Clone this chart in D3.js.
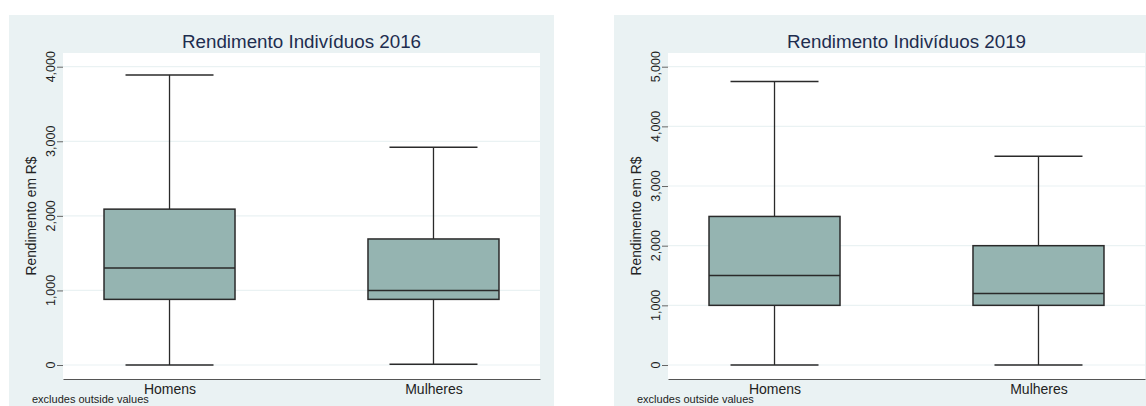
<!DOCTYPE html>
<html>
<head>
<meta charset="utf-8">
<script src="https://cdn.jsdelivr.net/npm/d3@7"></script>
<style>
  html, body { margin: 0; padding: 0; background: #ffffff; }
  svg { display: block; font-family: "Liberation Sans", Arial, sans-serif; }
  .ytick { font-size: 12.5px; }
</style>
</head>
<body>
<svg id="chart" width="1146" height="406"></svg>
<script>
// Income distribution by sex, box plots for 2016 and 2019
const categories = ["Homens", "Mulheres"];

const lower2016  = [0, 10];
const q1_2016    = [880, 880];
const median2016 = [1300, 1000];
const q3_2016    = [2090, 1690];
const upper2016  = [3890, 2920];
const ticks2016  = [0, 1000, 2000, 3000, 4000];

const lower2019  = [0, 0];
const q1_2019    = [1000, 1000];
const median2019 = [1500, 1200];
const q3_2019    = [2490, 2000];
const upper2019  = [4750, 3500];
const ticks2019  = [0, 1000, 2000, 3000, 4000, 5000];

const panels = [
  { title: "Rendimento Indivíduos 2016", lower: lower2016, q1: q1_2016, median: median2016, q3: q3_2016, upper: upper2016, ticks: ticks2016, bgX: 9, plotX: 63 },
  { title: "Rendimento Indivíduos 2019", lower: lower2019, q1: q1_2019, median: median2019, q3: q3_2019, upper: upper2019, ticks: ticks2019, bgX: 614, plotX: 668 }
];

const svg = d3.select("#chart");
const BG = "#eaf2f3";
const plotW = 477, plotTop = 53, plotBottom = 379;
const boxW = 131, capW = 88;
const fmt = d3.format(",");

panels.forEach(p => {
  // graph region background
  svg.append("rect")
    .attr("x", p.bgX).attr("y", 15)
    .attr("width", plotW + 68).attr("height", 400)
    .attr("fill", BG);

  const g = svg.append("g").attr("transform", `translate(${p.plotX},0)`);

  // plot region
  g.append("rect")
    .attr("x", 0).attr("y", plotTop)
    .attr("width", plotW).attr("height", plotBottom - plotTop)
    .attr("fill", "#ffffff");

  const x = d3.scalePoint().domain(categories).range([0, plotW]).padding(0.4035);
  const y = d3.scaleLinear().domain([0, d3.max(p.ticks)]).range([365, 66.7]);

  // gridlines
  g.selectAll(".grid").data(p.ticks).join("line")
    .attr("x1", 0).attr("x2", plotW)
    .attr("y1", d => y(d)).attr("y2", d => y(d))
    .attr("stroke", BG).attr("stroke-width", 1.2);

  // y axis ticks (labels drawn separately, rotated)
  const yAxis = g.append("g")
    .call(d3.axisLeft(y).tickValues(p.ticks).tickSize(6).tickFormat(""));
  yAxis.select(".domain").remove();
  yAxis.selectAll(".tick line").attr("stroke", "#666").attr("stroke-width", 1);

  g.selectAll(".ytick").data(p.ticks).join("text")
    .attr("class", "ytick")
    .attr("text-anchor", "middle")
    .attr("transform", d => `translate(-8,${y(d)}) rotate(-90)`)
    .attr("fill", "#222")
    .attr("font-size", 12.5)
    .text(d => fmt(d));

  // y axis title
  g.append("text")
    .attr("transform", `translate(-27,${(plotTop + plotBottom) / 2}) rotate(-90)`)
    .attr("text-anchor", "middle")
    .attr("fill", "#222")
    .attr("font-size", 13.8)
    .text("Rendimento em R$");

  // x axis
  const xAxis = g.append("g")
    .attr("transform", `translate(0,${plotBottom})`)
    .call(d3.axisBottom(x).tickSize(0).tickPadding(5));
  xAxis.attr("font-size", 14).attr("font-family", null);
  xAxis.select(".domain").attr("stroke", "#555").attr("stroke-width", 1.2);
  xAxis.selectAll(".tick text").attr("fill", "#222");

  // title
  g.append("text")
    .attr("x", plotW / 2).attr("y", 48)
    .attr("text-anchor", "middle")
    .attr("fill", "#1e2d4f")
    .attr("font-size", 18.8)
    .text(p.title);

  // whiskers, caps, boxes
  categories.forEach((c, i) => {
    const cx = x(c);
    const stroke = "#2a2a2a";
    g.append("line")
      .attr("x1", cx).attr("x2", cx)
      .attr("y1", y(p.q3[i])).attr("y2", y(p.upper[i]))
      .attr("stroke", stroke).attr("stroke-width", 1.3);
    g.append("line")
      .attr("x1", cx).attr("x2", cx)
      .attr("y1", y(p.q1[i])).attr("y2", y(p.lower[i]))
      .attr("stroke", stroke).attr("stroke-width", 1.3);
    [p.upper[i], p.lower[i]].forEach(v => {
      g.append("line")
        .attr("x1", cx - capW / 2).attr("x2", cx + capW / 2)
        .attr("y1", y(v)).attr("y2", y(v))
        .attr("stroke", stroke).attr("stroke-width", 1.5);
    });
    g.append("rect")
      .attr("x", cx - boxW / 2).attr("width", boxW)
      .attr("y", y(p.q3[i])).attr("height", y(p.q1[i]) - y(p.q3[i]))
      .attr("fill", "#95b4b1")
      .attr("stroke", stroke).attr("stroke-width", 1.5);
    g.append("line")
      .attr("x1", cx - boxW / 2).attr("x2", cx + boxW / 2)
      .attr("y1", y(p.median[i])).attr("y2", y(p.median[i]))
      .attr("stroke", stroke).attr("stroke-width", 1.5);
  });

  // note
  svg.append("text")
    .attr("x", p.bgX + 23).attr("y", 403)
    .attr("fill", "#222")
    .attr("font-size", 11)
    .text("excludes outside values");
});
</script>
</body>
</html>
